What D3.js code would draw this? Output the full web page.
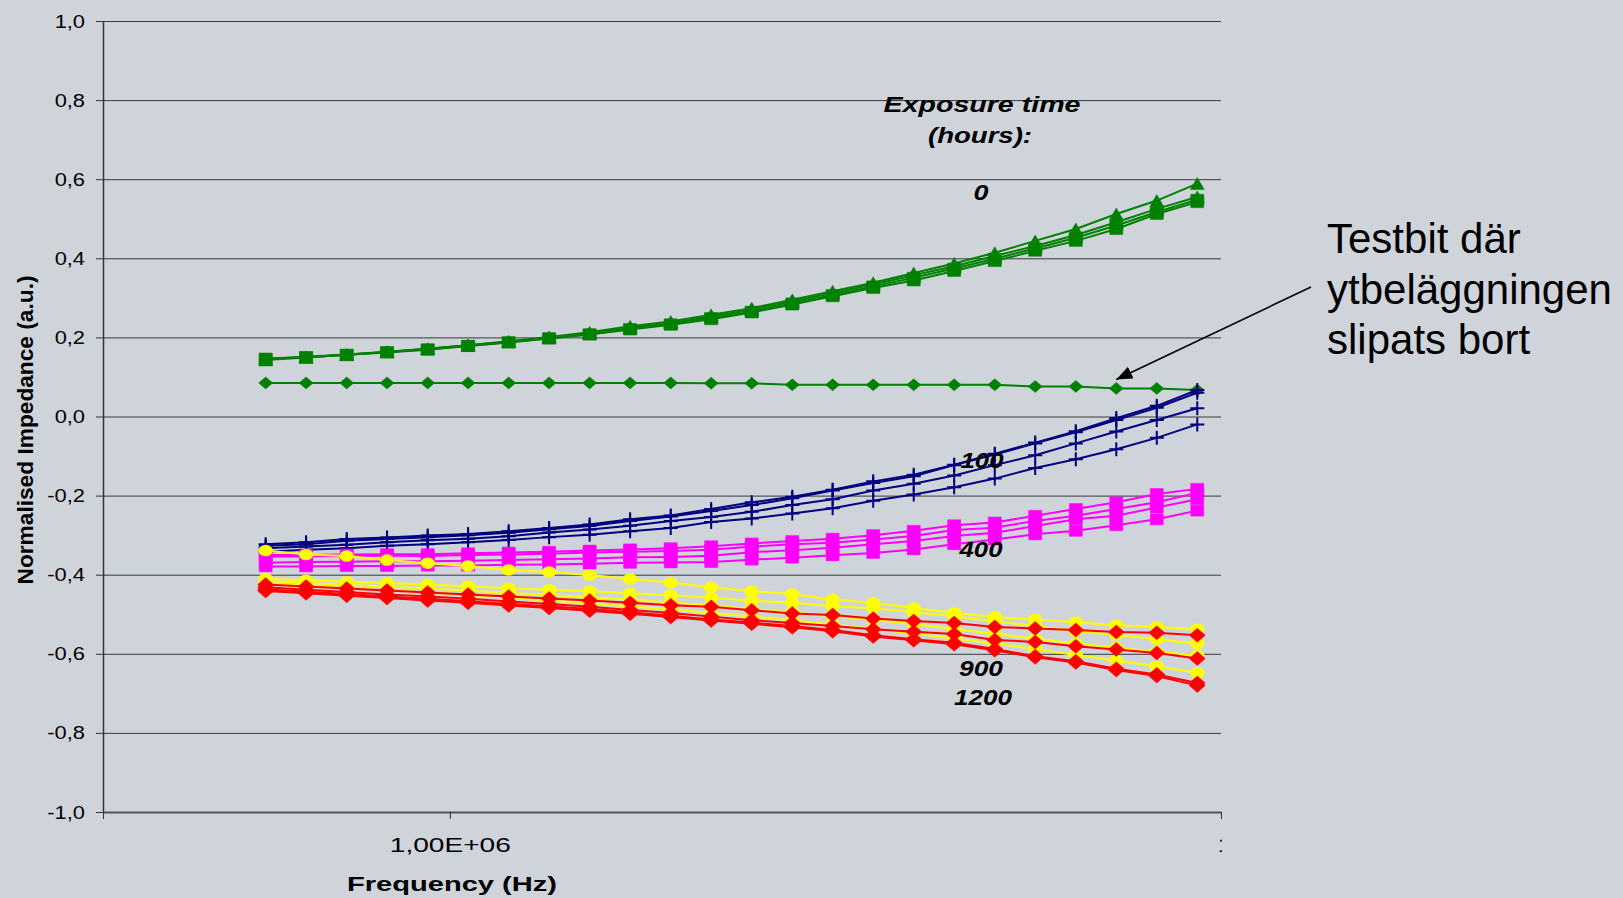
<!DOCTYPE html>
<html>
<head>
<meta charset="utf-8">
<title>Normalised impedance vs frequency</title>
<script src="https://cdn.jsdelivr.net/npm/d3@7"></script>
<style>
    body { margin: 0; background: #cfd3da; }
    svg { display: block; font-family: Arial, "Liberation Sans", sans-serif; }
</style>
</head>
<body>
<script>
//wrap everything in a self-executing anonymous function to keep it local
(function () {

    //frequency sweep (Hz), x categories
    var freqHz = [5.77e5, 6.51e5, 7.35e5, 8.29e5, 9.36e5, 1.056e6, 1.192e6, 1.345e6, 1.518e6, 1.713e6,
        1.934e6, 2.182e6, 2.463e6, 2.780e6, 3.136e6, 3.540e6, 3.995e6, 4.508e6, 5.089e6, 5.742e6,
        6.482e6, 7.315e6, 8.255e6, 9.316e6];

    //axis ticks
    var yTicks = [-1, -0.8, -0.6, -0.4, -0.2, 0, 0.2, 0.4, 0.6, 0.8, 1];
    var xTicks = [1e6, 1e7];

    //0 hours (green)
    var h0TriA = [0.143, 0.149, 0.156, 0.163, 0.171, 0.180, 0.190, 0.201, 0.213, 0.228, 0.240, 0.257, 0.274, 0.295, 0.317, 0.338, 0.363, 0.387, 0.414, 0.444, 0.474, 0.512, 0.546, 0.589];
    var h0TriB = [0.146, 0.151, 0.157, 0.164, 0.171, 0.180, 0.189, 0.199, 0.210, 0.224, 0.236, 0.253, 0.270, 0.291, 0.312, 0.334, 0.357, 0.380, 0.406, 0.431, 0.459, 0.491, 0.525, 0.555];
    var h0SqA = [0.146, 0.150, 0.156, 0.163, 0.170, 0.179, 0.188, 0.198, 0.208, 0.221, 0.233, 0.249, 0.265, 0.286, 0.307, 0.329, 0.351, 0.374, 0.399, 0.425, 0.452, 0.483, 0.517, 0.548];
    var h0SqB = [0.146, 0.150, 0.156, 0.162, 0.169, 0.178, 0.187, 0.197, 0.207, 0.220, 0.232, 0.246, 0.263, 0.283, 0.304, 0.325, 0.344, 0.368, 0.393, 0.419, 0.444, 0.474, 0.512, 0.542];
    //test piece with the coating ground off
    var testbit = [0.085, 0.085, 0.085, 0.085, 0.085, 0.085, 0.085, 0.085, 0.085, 0.085, 0.085, 0.084, 0.084, 0.080, 0.080, 0.080, 0.080, 0.080, 0.080, 0.076, 0.076, 0.071, 0.071, 0.067];

    //100 hours (navy)
    var h100A = [-0.323, -0.318, -0.310, -0.306, -0.301, -0.297, -0.290, -0.282, -0.273, -0.260, -0.250, -0.234, -0.217, -0.203, -0.185, -0.164, -0.147, -0.122, -0.094, -0.066, -0.037, -0.004, 0.027, 0.067];
    var h100B = [-0.327, -0.323, -0.314, -0.310, -0.305, -0.300, -0.294, -0.285, -0.277, -0.264, -0.253, -0.239, -0.224, -0.207, -0.187, -0.168, -0.151, -0.123, -0.096, -0.068, -0.040, -0.009, 0.022, 0.060];
    var h100C = [-0.333, -0.329, -0.324, -0.318, -0.313, -0.309, -0.303, -0.293, -0.286, -0.276, -0.264, -0.254, -0.241, -0.224, -0.209, -0.187, -0.170, -0.149, -0.123, -0.098, -0.068, -0.038, -0.009, 0.021];
    var h100D = [-0.342, -0.337, -0.333, -0.327, -0.323, -0.318, -0.312, -0.305, -0.299, -0.290, -0.282, -0.267, -0.258, -0.245, -0.232, -0.213, -0.197, -0.179, -0.157, -0.130, -0.108, -0.083, -0.054, -0.020];

    //400 hours (magenta)
    var h400A = [-0.350, -0.350, -0.349, -0.348, -0.348, -0.346, -0.344, -0.342, -0.339, -0.336, -0.333, -0.328, -0.321, -0.315, -0.309, -0.300, -0.289, -0.275, -0.268, -0.251, -0.234, -0.217, -0.196, -0.183];
    var h400B = [-0.354, -0.354, -0.353, -0.352, -0.353, -0.350, -0.349, -0.347, -0.344, -0.342, -0.340, -0.337, -0.329, -0.323, -0.319, -0.311, -0.302, -0.287, -0.281, -0.264, -0.251, -0.234, -0.217, -0.193];
    var h400C = [-0.370, -0.368, -0.367, -0.366, -0.366, -0.365, -0.363, -0.361, -0.359, -0.356, -0.355, -0.352, -0.343, -0.338, -0.332, -0.323, -0.315, -0.302, -0.294, -0.277, -0.260, -0.251, -0.230, -0.209];
    var h400D = [-0.379, -0.379, -0.378, -0.378, -0.377, -0.377, -0.375, -0.374, -0.372, -0.370, -0.369, -0.368, -0.362, -0.357, -0.351, -0.345, -0.336, -0.323, -0.311, -0.298, -0.289, -0.275, -0.260, -0.238];

    //900 hours (yellow)
    var h900A = [-0.339, -0.349, -0.353, -0.363, -0.371, -0.378, -0.388, -0.393, -0.401, -0.411, -0.420, -0.432, -0.442, -0.449, -0.463, -0.471, -0.484, -0.496, -0.507, -0.513, -0.520, -0.528, -0.532, -0.538];
    var h900B = [-0.410, -0.414, -0.418, -0.421, -0.425, -0.429, -0.434, -0.438, -0.442, -0.447, -0.452, -0.458, -0.466, -0.471, -0.480, -0.485, -0.495, -0.505, -0.518, -0.530, -0.543, -0.552, -0.563, -0.574];
    var h900C = [-0.416, -0.421, -0.426, -0.430, -0.435, -0.440, -0.446, -0.451, -0.457, -0.463, -0.470, -0.478, -0.487, -0.495, -0.505, -0.513, -0.525, -0.537, -0.550, -0.562, -0.574, -0.585, -0.595, -0.604];
    var h900D = [-0.422, -0.428, -0.434, -0.439, -0.445, -0.451, -0.458, -0.465, -0.472, -0.480, -0.488, -0.497, -0.506, -0.516, -0.526, -0.537, -0.549, -0.561, -0.574, -0.588, -0.603, -0.617, -0.632, -0.648];

    //1200 hours (red)
    var h1200A = [-0.425, -0.430, -0.435, -0.440, -0.445, -0.450, -0.455, -0.460, -0.465, -0.471, -0.477, -0.481, -0.490, -0.498, -0.502, -0.511, -0.517, -0.522, -0.532, -0.536, -0.540, -0.545, -0.547, -0.553];
    var h1200B = [-0.432, -0.438, -0.444, -0.450, -0.455, -0.461, -0.468, -0.474, -0.481, -0.489, -0.497, -0.506, -0.515, -0.522, -0.530, -0.538, -0.544, -0.550, -0.565, -0.570, -0.581, -0.589, -0.598, -0.612];
    var h1200C = [-0.437, -0.443, -0.449, -0.455, -0.461, -0.467, -0.474, -0.480, -0.487, -0.495, -0.504, -0.513, -0.521, -0.530, -0.540, -0.553, -0.563, -0.572, -0.588, -0.606, -0.619, -0.638, -0.652, -0.674];
    var h1200D = [-0.441, -0.447, -0.453, -0.459, -0.465, -0.471, -0.478, -0.484, -0.491, -0.499, -0.507, -0.516, -0.524, -0.533, -0.543, -0.556, -0.566, -0.576, -0.591, -0.609, -0.622, -0.641, -0.656, -0.680];

    //series table, in drawing order (later ones on top)
    var series = [
        { values: h0TriA, color: "#008000", marker: "triangle" },
        { values: h0TriB, color: "#008000", marker: "triangle" },
        { values: h0SqA, color: "#008000", marker: "square" },
        { values: h0SqB, color: "#008000", marker: "square" },
        { values: testbit, color: "#008000", marker: "diamond" },
        { values: h100A, color: "#000080", marker: "plus" },
        { values: h100B, color: "#000080", marker: "plus" },
        { values: h100C, color: "#000080", marker: "plus" },
        { values: h100D, color: "#000080", marker: "plus" },
        { values: h400A, color: "#ff00ff", marker: "bigsquare" },
        { values: h400B, color: "#ff00ff", marker: "bigsquare" },
        { values: h400C, color: "#ff00ff", marker: "bigsquare" },
        { values: h400D, color: "#ff00ff", marker: "bigsquare" },
        { values: h900A, color: "#ffff00", marker: "circle" },
        { values: h900B, color: "#ffff00", marker: "circle" },
        { values: h900C, color: "#ffff00", marker: "circle" },
        { values: h900D, color: "#ffff00", marker: "circle" },
        { values: h1200A, color: "#ff0000", marker: "bigdiamond" },
        { values: h1200B, color: "#ff0000", marker: "bigdiamond" },
        { values: h1200C, color: "#ff0000", marker: "bigdiamond" },
        { values: h1200D, color: "#ff0000", marker: "bigdiamond" }
    ];

    //begin script when window loads
    window.onload = setChart();

    function setChart() {
        var width = 1623,
            height = 898;

        var svg = d3.select("body")
            .append("svg")
            .attr("width", width)
            .attr("height", height);

        svg.append("rect")
            .attr("width", width)
            .attr("height", height)
            .attr("fill", "#cfd3da");

        //log frequency axis, linear impedance axis
        var x = d3.scaleLog()
            .domain([3.55e5, 1e7])
            .range([103, 1221]);
        var y = d3.scaleLinear()
            .domain([-1, 1])
            .range([812, 21]);

        //swedish number format with comma decimals
        var sv = d3.formatLocale({ decimal: ",", thousands: " ", grouping: [3], currency: ["", " kr"], minus: "-" });
        var yFmt = sv.format(".1f");

        //horizontal gridlines
        var grid = svg.append("g")
            .attr("class", "grid")
            .attr("transform", "translate(103,0)")
            .call(d3.axisLeft(y).tickValues(yTicks).tickSize(-(1221 - 103)).tickFormat(""));
        grid.select(".domain").remove();
        grid.selectAll("line")
            .attr("stroke", "#3a3a3a")
            .attr("stroke-width", 1);

        //y axis
        var yAxis = svg.append("g")
            .attr("class", "yAxis")
            .attr("transform", "translate(103,0)")
            .call(d3.axisLeft(y).tickValues(yTicks).tickSize(7).tickSizeOuter(0).tickPadding(11).tickFormat(yFmt));
        yAxis.select(".domain").attr("stroke", "#333").attr("stroke-width", 1.5);
        yAxis.selectAll("line").attr("stroke", "#333");
        yAxis.selectAll("text")
            .attr("font-size", 19)
            .attr("fill", "#000")
            .attr("font-family", "Arial, 'Liberation Sans', sans-serif")
            .each(function () {
                var w = this.getComputedTextLength();
                d3.select(this).attr("textLength", w * 1.15).attr("lengthAdjust", "spacingAndGlyphs");
            });

        //x axis, with the left end mark and the clipped right label
        svg.append("defs").append("clipPath")
            .attr("id", "xclip")
            .append("rect")
            .attr("x", 0).attr("y", -30)
            .attr("width", 1222).attr("height", 80);

        var xFmt = function (d) {
            if (xTicks.indexOf(d) < 0) return "";
            var p = d3.format(".2e")(d).split("e");
            var ex = +p[1];
            return p[0].replace(".", ",") + "E" + (ex < 0 ? "-" : "+") + d3.format("02")(Math.abs(ex));
        };
        var xAxis = svg.append("g")
            .attr("class", "xAxis")
            .attr("transform", "translate(0,812)")
            .attr("clip-path", "url(#xclip)")
            .call(d3.axisBottom(x).tickValues([x.domain()[0]].concat(xTicks)).tickSize(7).tickSizeOuter(0).tickPadding(18).tickFormat(xFmt));
        xAxis.select(".domain").attr("stroke", "#555").attr("stroke-width", 2);
        xAxis.selectAll("line").attr("stroke", "#333");
        xAxis.selectAll("text")
            .attr("font-size", 21)
            .attr("fill", "#000")
            .attr("font-family", "Arial, 'Liberation Sans', sans-serif")
            .attr("textLength", function (d) { return xTicks.indexOf(d) < 0 ? null : 121; })
            .attr("lengthAdjust", "spacingAndGlyphs");
        xAxis.selectAll(".tick")
            .filter(function (d) { return d === 1e7; })
            .select("text")
            .attr("text-anchor", "start")
            .attr("x", -4);

        //lines and markers, series by series
        var line = d3.line()
            .x(function (d, i) { return x(freqHz[i]); })
            .y(function (d) { return y(d); });

        series.forEach(function (s) {
            var g = svg.append("g").attr("class", "series");
            g.append("path")
                .datum(s.values)
                .attr("d", line)
                .attr("fill", "none")
                .attr("stroke", s.color)
                .attr("stroke-width", 2);
            g.selectAll(".mark")
                .data(s.values)
                .enter()
                .append("path")
                .attr("class", "mark")
                .attr("transform", function (d, i) { return "translate(" + x(freqHz[i]) + "," + y(d) + ")"; })
                .attr("d", markerPath(s.marker))
                .attr("fill", s.marker === "plus" ? "none" : s.color)
                .attr("stroke", s.color)
                .attr("stroke-width", s.marker === "plus" ? 2 : 0.5);
        });

        setLabels(svg, x, y);
    };

    //marker shapes, slightly wider than tall like the original
    function markerPath(type) {
        var w, h;
        switch (type) {
            case "triangle":
                w = 14; h = 12;
                return "M0," + (-h / 2) + "L" + (w / 2) + "," + (h / 2) + "L" + (-w / 2) + "," + (h / 2) + "Z";
            case "square":
                w = 13; h = 11;
                return "M" + (-w / 2) + "," + (-h / 2) + "h" + w + "v" + h + "h" + (-w) + "Z";
            case "bigsquare":
                w = 13; h = 11;
                return "M" + (-w / 2) + "," + (-h / 2) + "h" + w + "v" + h + "h" + (-w) + "Z";
            case "diamond":
                w = 14; h = 12;
                return "M0," + (-h / 2) + "L" + (w / 2) + ",0L0," + (h / 2) + "L" + (-w / 2) + ",0Z";
            case "bigdiamond":
                w = 16; h = 14;
                return "M0," + (-h / 2) + "L" + (w / 2) + ",0L0," + (h / 2) + "L" + (-w / 2) + ",0Z";
            case "circle":
                w = 14; h = 11;
                return "M" + (-w / 2) + ",0a" + (w / 2) + "," + (h / 2) + " 0 1,0 " + w + ",0a" + (w / 2) + "," + (h / 2) + " 0 1,0 " + (-w) + ",0Z";
            case "plus":
                w = 14; h = 14;
                return "M" + (-w / 2) + ",0H" + (w / 2) + "M0," + (-h / 2) + "V" + (h / 2);
        }
    };

    function setLabels(svg, x, y) {
        //axis titles
        svg.append("text")
            .attr("x", 452).attr("y", 891)
            .attr("text-anchor", "middle")
            .attr("font-size", 21).attr("font-weight", "bold")
            .attr("textLength", 210).attr("lengthAdjust", "spacingAndGlyphs")
            .text("Frequency (Hz)");

        svg.append("text")
            .attr("transform", "translate(33,430) rotate(-90)")
            .attr("text-anchor", "middle")
            .attr("font-size", 22).attr("font-weight", "bold")
            .attr("textLength", 309).attr("lengthAdjust", "spacingAndGlyphs")
            .text("Normalised Impedance (a.u.)");

        //exposure time labels
        var tags = [
            { t: "Exposure time", cx: 982, by: 112, len: 197 },
            { t: "(hours):", cx: 980, by: 143, len: 104 },
            { t: "0", cx: 981, by: 200, len: 15 },
            { t: "100", cx: 982, by: 468, len: 43 },
            { t: "400", cx: 981, by: 557, len: 43 },
            { t: "900", cx: 981, by: 676, len: 44 },
            { t: "1200", cx: 983, by: 705, len: 58 }
        ];
        svg.selectAll(".tag")
            .data(tags)
            .enter()
            .append("text")
            .attr("class", "tag")
            .attr("x", function (d) { return d.cx; })
            .attr("y", function (d) { return d.by; })
            .attr("text-anchor", "middle")
            .attr("font-size", 22)
            .attr("font-weight", "bold")
            .attr("font-style", "italic")
            .attr("fill", "#000")
            .attr("textLength", function (d) { return d.len; })
            .attr("lengthAdjust", "spacingAndGlyphs")
            .text(function (d) { return d.t; });

        //annotation text
        var note = ["Testbit där", "ytbeläggningen", "slipats bort"];
        svg.selectAll(".note")
            .data(note)
            .enter()
            .append("text")
            .attr("class", "note")
            .attr("x", 1327)
            .attr("y", function (d, i) { return 253 + i * 50.5; })
            .attr("font-size", 42)
            .attr("fill", "#000")
            .text(function (d) { return d; });

        //arrow pointing at the test piece curve
        svg.select("defs").append("marker")
            .attr("id", "head")
            .attr("markerUnits", "userSpaceOnUse")
            .attr("markerWidth", 18).attr("markerHeight", 14)
            .attr("refX", 16).attr("refY", 6.5)
            .attr("orient", "auto")
            .append("path")
            .attr("d", "M0,0L16,6.5L0,13Z")
            .attr("fill", "#000");

        svg.append("line")
            .attr("x1", 1311).attr("y1", 287)
            .attr("x2", x(freqHz[21])).attr("y2", y(testbit[21]) - 9)
            .attr("stroke", "#000")
            .attr("stroke-width", 1.6)
            .attr("marker-end", "url(#head)");
    };

})();
</script>
</body>
</html>
